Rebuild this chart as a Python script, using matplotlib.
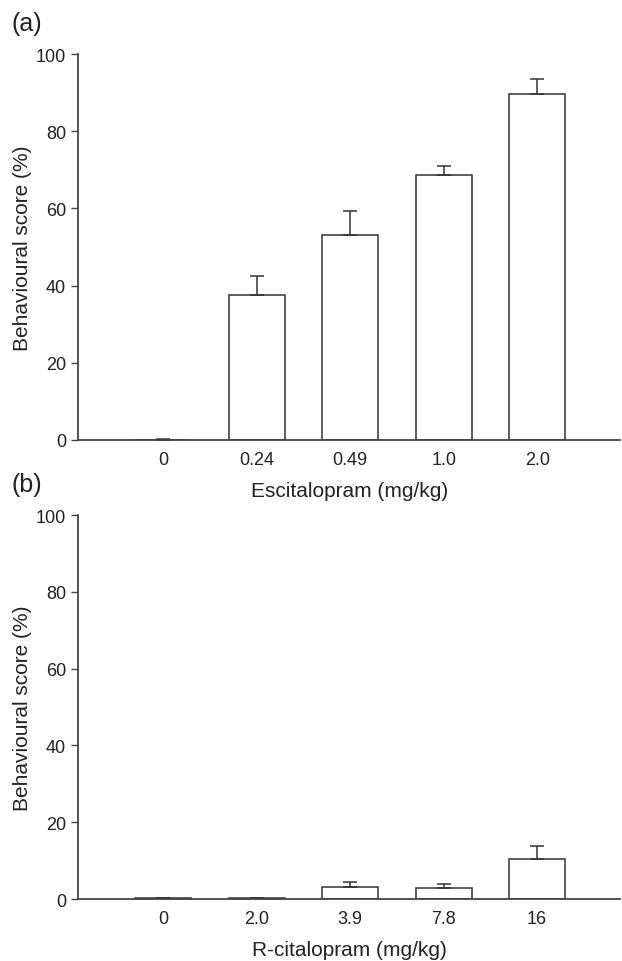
import matplotlib
matplotlib.use("Agg")
import matplotlib.pyplot as plt

plt.rcParams['font.family'] = ['Liberation Sans', 'DejaVu Sans']

# panel (a)
esc_doses = ["0", "0.24", "0.49", "1.0", "2.0"]
esc_score = [0.0, 37.6, 53.1, 68.7, 89.6]
esc_err = [0.3, 4.9, 6.1, 2.2, 3.8]

# panel (b)
rcit_doses = ["0", "2.0", "3.9", "7.8", "16"]
rcit_score = [0.2, 0.2, 3.2, 2.8, 10.3]
rcit_err = [0.2, 0.2, 1.2, 1.1, 3.5]

fig = plt.figure(figsize=(6.22, 9.62), dpi=100)
ax1 = fig.add_axes([0.1254, 0.5416, 0.872, 0.4012])
ax2 = fig.add_axes([0.1254, 0.0644, 0.872, 0.3992])

spine_col = "#444444"

def draw(ax, doses, vals, errs, xlabel, tag):
    x = range(len(doses))
    ax.bar(x, vals, width=0.6, color="white", edgecolor="#333333", linewidth=1.1,
           yerr=[[0] * len(errs), errs], capsize=4.7,
           error_kw=dict(ecolor="#333333", elinewidth=1.1, capthick=1.1))
    ax.set_xlim(-0.91, 4.89)
    ax.set_ylim(0, 100)
    ax.set_yticks([0, 20, 40, 60, 80, 100])
    ax.set_xticks(list(x))
    ax.set_xticklabels(doses)
    ax.tick_params(axis="x", length=0, labelsize=13, pad=8, colors="#222222")
    ax.tick_params(axis="y", length=5, width=1, labelsize=13, colors=spine_col,
                   labelcolor="#222222")
    for s in ["top", "right"]:
        ax.spines[s].set_visible(False)
    for s in ["left", "bottom"]:
        ax.spines[s].set_color(spine_col)
        ax.spines[s].set_linewidth(1.3)
    ax.set_xlabel(xlabel, fontsize=15, labelpad=9, color="#222222")
    ax.set_ylabel("Behavioural score (%)", fontsize=15, labelpad=2.5, color="#222222")
    ax.text(-0.122, 1.08, tag, transform=ax.transAxes, fontsize=18, color="#222222",
            va="center", ha="left")

draw(ax1, esc_doses, esc_score, esc_err, "Escitalopram (mg/kg)", "(a)")
draw(ax2, rcit_doses, rcit_score, rcit_err, "R-citalopram (mg/kg)", "(b)")

fig.savefig("out.png", dpi=100)
